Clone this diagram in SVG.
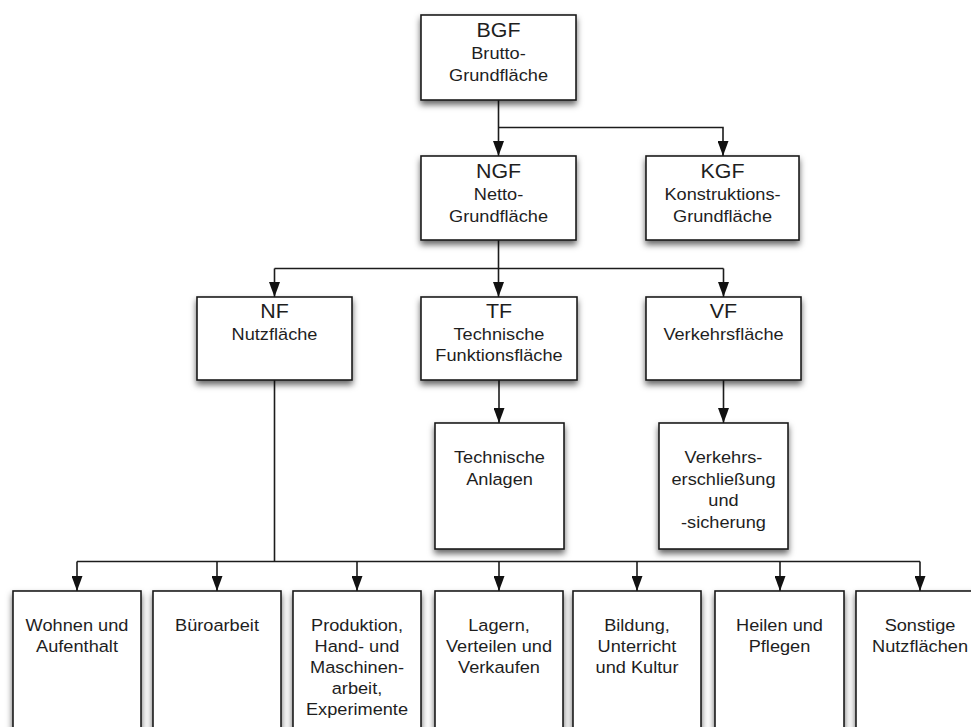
<svg xmlns="http://www.w3.org/2000/svg" width="971" height="727" viewBox="0 0 971 727">
  <defs>
    <filter id="shadow" x="-20%" y="-20%" width="140%" height="140%">
      <feDropShadow dx="0" dy="4" stdDeviation="3" flood-color="#000" flood-opacity="0.6"/>
    </filter>
    <marker id="arrow" markerUnits="userSpaceOnUse" markerWidth="15" markerHeight="11" refX="15" refY="5.5" orient="auto">
      <path d="M0,0 L15,5.5 L0,11 Z" fill="#111"/>
    </marker>
  </defs>
  <style>
    .box { fill: #fff; stroke: #1c1c1c; stroke-width: 1.6; filter: url(#shadow); }
    .t { font-family: "Liberation Sans", Arial, sans-serif; font-size: 17px; fill: #1e1e1e; text-anchor: middle; }
    .h { font-size: 20px; }
    .c { fill: none; stroke: #1c1c1c; stroke-width: 1.6; }
    .a { marker-end: url(#arrow); }
  </style>

  <rect width="971" height="727" fill="#fff"/>

  <!-- connectors -->
  <g id="connectors">
    <path class="c a" d="M498.5,100 V156"/>
    <path class="c a" d="M498.5,127.5 H723 V156"/>
    <path class="c" d="M498.5,240 V268.5"/>
    <path class="c" d="M274.5,268.5 H723.5"/>
    <path class="c a" d="M274.5,268.5 V297"/>
    <path class="c a" d="M498.5,268.5 V297"/>
    <path class="c a" d="M723.5,268.5 V297"/>
    <path class="c a" d="M499,380 V423"/>
    <path class="c a" d="M723.5,380 V423"/>
    <path class="c" d="M274.5,380 V561.5"/>
    <path class="c" d="M77,561.5 H920"/>
    <path class="c a" d="M77,561.5 V591"/>
    <path class="c a" d="M217,561.5 V591"/>
    <path class="c a" d="M357,561.5 V591"/>
    <path class="c a" d="M499,561.5 V591"/>
    <path class="c a" d="M637,561.5 V591"/>
    <path class="c a" d="M780,561.5 V591"/>
    <path class="c a" d="M920,561.5 V591"/>
  </g>

  <!-- level 1 -->
  <g id="bgf">
    <rect class="box" x="421" y="15" width="155" height="85"/>
    <text class="t" transform="translate(498.5 0) scale(1.07 1)"><tspan class="h" x="0" y="37">BGF</tspan><tspan x="0" y="59.5">Brutto-</tspan><tspan x="0" y="81">Grundfläche</tspan></text>
  </g>

  <!-- level 2 -->
  <g id="ngf">
    <rect class="box" x="421" y="156" width="155" height="84"/>
    <text class="t" transform="translate(498.5 0) scale(1.07 1)"><tspan class="h" x="0" y="178">NGF</tspan><tspan x="0" y="200.5">Netto-</tspan><tspan x="0" y="222">Grundfläche</tspan></text>
  </g>
  <g id="kgf">
    <rect class="box" x="646" y="156" width="153" height="84"/>
    <text class="t" transform="translate(722.5 0) scale(1.07 1)"><tspan class="h" x="0" y="178">KGF</tspan><tspan x="0" y="200.5">Konstruktions-</tspan><tspan x="0" y="222">Grundfläche</tspan></text>
  </g>

  <!-- level 3 -->
  <g id="nf">
    <rect class="box" x="197" y="297" width="155" height="83"/>
    <text class="t" transform="translate(274.5 0) scale(1.07 1)"><tspan class="h" x="0" y="318.5">NF</tspan><tspan x="0" y="340.5">Nutzfläche</tspan></text>
  </g>
  <g id="tf">
    <rect class="box" x="421" y="297" width="156" height="83"/>
    <text class="t" transform="translate(499 0) scale(1.07 1)"><tspan class="h" x="0" y="318.5">TF</tspan><tspan x="0" y="340.5">Technische</tspan><tspan x="0" y="361.5">Funktionsfläche</tspan></text>
  </g>
  <g id="vf">
    <rect class="box" x="646" y="297" width="155" height="83"/>
    <text class="t" transform="translate(723.5 0) scale(1.07 1)"><tspan class="h" x="0" y="318.5">VF</tspan><tspan x="0" y="340.5">Verkehrsfläche</tspan></text>
  </g>

  <!-- level 4 -->
  <g id="technische-anlagen">
    <rect class="box" x="435" y="423" width="129" height="126"/>
    <text class="t" transform="translate(499.5 0) scale(1.07 1)"><tspan x="0" y="463.5">Technische</tspan><tspan x="0" y="485">Anlagen</tspan></text>
  </g>
  <g id="verkehrserschliessung">
    <rect class="box" x="659" y="423" width="129" height="126"/>
    <text class="t" transform="translate(723.5 0) scale(1.07 1)"><tspan x="0" y="463.5">Verkehrs-</tspan><tspan x="0" y="485">erschließung</tspan><tspan x="0" y="506.5">und</tspan><tspan x="0" y="528">-sicherung</tspan></text>
  </g>

  <!-- usage categories -->
  <g id="wohnen">
    <rect class="box" x="13" y="591" width="128" height="150"/>
    <text class="t" transform="translate(77 0) scale(1.07 1)"><tspan x="0" y="631.5">Wohnen und</tspan><tspan x="0" y="652.5">Aufenthalt</tspan></text>
  </g>
  <g id="buero">
    <rect class="box" x="153" y="591" width="128" height="150"/>
    <text class="t" transform="translate(217 0) scale(1.07 1)"><tspan x="0" y="631.5">Büroarbeit</tspan></text>
  </g>
  <g id="produktion">
    <rect class="box" x="293" y="591" width="128" height="150"/>
    <text class="t" transform="translate(357 0) scale(1.07 1)"><tspan x="0" y="631.5">Produktion,</tspan><tspan x="0" y="652.5">Hand- und</tspan><tspan x="0" y="673.5">Maschinen-</tspan><tspan x="0" y="694.5">arbeit,</tspan><tspan x="0" y="715.5">Experimente</tspan></text>
  </g>
  <g id="lagern">
    <rect class="box" x="435" y="591" width="128" height="150"/>
    <text class="t" transform="translate(499 0) scale(1.07 1)"><tspan x="0" y="631.5">Lagern,</tspan><tspan x="0" y="652.5">Verteilen und</tspan><tspan x="0" y="673.5">Verkaufen</tspan></text>
  </g>
  <g id="bildung">
    <rect class="box" x="573" y="591" width="128" height="150"/>
    <text class="t" transform="translate(637 0) scale(1.07 1)"><tspan x="0" y="631.5">Bildung,</tspan><tspan x="0" y="652.5">Unterricht</tspan><tspan x="0" y="673.5">und Kultur</tspan></text>
  </g>
  <g id="heilen">
    <rect class="box" x="715" y="591" width="129" height="150"/>
    <text class="t" transform="translate(779.5 0) scale(1.07 1)"><tspan x="0" y="631.5">Heilen und</tspan><tspan x="0" y="652.5">Pflegen</tspan></text>
  </g>
  <g id="sonstige">
    <rect class="box" x="856" y="591" width="128" height="150"/>
    <text class="t" transform="translate(920 0) scale(1.07 1)"><tspan x="0" y="631.5">Sonstige</tspan><tspan x="0" y="652.5">Nutzflächen</tspan></text>
  </g>
</svg>
